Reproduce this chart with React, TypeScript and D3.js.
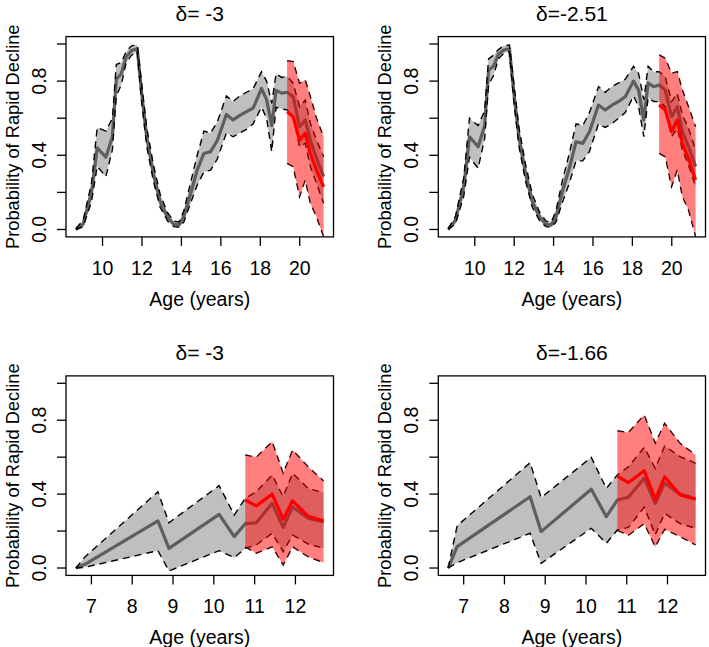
import React from "react";
import * as d3 from "d3";

// ---------- data ----------
const titles = ["δ= -3", "δ=-2.51", "δ= -3", "δ=-1.66"];
const xTicksTop = [10, 12, 14, 16, 18, 20];
const xTicksBottom = [7, 8, 9, 10, 11, 12];
const yTicks = [0, 0.2, 0.4, 0.6, 0.8, 1.0];
const yTickLabels = ["0.0", "", "0.4", "", "0.8", ""];

const agesTop = [8.65, 9.02, 9.44, 9.73, 10.17, 10.5, 10.7, 10.95, 11.2, 11.47, 11.76, 11.98, 12.24, 12.58, 12.92, 13.3, 13.62, 13.88, 14.12, 14.46, 14.8, 15.14, 15.48, 15.82, 16.28, 16.62, 16.96, 17.3, 17.64, 18.06, 18.32, 18.58, 18.8, 19.08, 19.36, 19.67, 19.99, 20.28, 20.54, 20.85, 21.21];
const redAgesTop = [19.36, 19.67, 19.99, 20.28, 20.54, 20.85, 21.21];

const p1Mean = [0, 0.03, 0.2, 0.44, 0.39, 0.5, 0.81, 0.84, 0.93, 0.965, 0.975, 0.74, 0.5, 0.3, 0.15, 0.065, 0.028, 0.025, 0.07, 0.19, 0.32, 0.41, 0.42, 0.48, 0.62, 0.59, 0.615, 0.635, 0.655, 0.76, 0.7, 0.56, 0.75, 0.735, 0.74, 0.716, 0.554, 0.59, 0.48, 0.384, 0.285];
const p1Lo = [0, 0.015, 0.15, 0.34, 0.285, 0.43, 0.72, 0.78, 0.9, 0.94, 0.96, 0.69, 0.45, 0.26, 0.12, 0.045, 0.015, 0.012, 0.04, 0.14, 0.24, 0.31, 0.32, 0.38, 0.52, 0.5, 0.52, 0.54, 0.57, 0.66, 0.6, 0.42, 0.66, 0.65, 0.645, 0.608, 0.446, 0.464, 0.339, 0.249, 0.141];
const p1Hi = [0.005, 0.05, 0.25, 0.55, 0.53, 0.6, 0.89, 0.9, 0.96, 0.99, 0.995, 0.79, 0.55, 0.35, 0.19, 0.09, 0.045, 0.04, 0.1, 0.25, 0.4, 0.53, 0.52, 0.58, 0.72, 0.69, 0.72, 0.74, 0.76, 0.85, 0.8, 0.68, 0.84, 0.82, 0.825, 0.788, 0.662, 0.698, 0.573, 0.482, 0.392];
const p1RedMean = [0.635, 0.608, 0.482, 0.518, 0.41, 0.32, 0.23];
const p1RedLo = [0.357, 0.339, 0.177, 0.267, 0.141, 0.069, -0.039];
const p1RedHi = [0.91, 0.905, 0.788, 0.806, 0.716, 0.6, 0.5];

const p2Mean = [0, 0.05, 0.23, 0.5, 0.446, 0.56, 0.86, 0.88, 0.945, 0.968, 0.975, 0.74, 0.5, 0.3, 0.15, 0.065, 0.028, 0.025, 0.068, 0.21, 0.33, 0.473, 0.464, 0.527, 0.671, 0.644, 0.67, 0.69, 0.716, 0.8, 0.75, 0.59, 0.79, 0.77, 0.779, 0.752, 0.608, 0.662, 0.527, 0.446, 0.339];
const p2Lo = [0, 0.03, 0.18, 0.39, 0.33, 0.49, 0.78, 0.83, 0.92, 0.95, 0.96, 0.69, 0.45, 0.26, 0.12, 0.045, 0.015, 0.012, 0.04, 0.15, 0.25, 0.37, 0.37, 0.42, 0.57, 0.55, 0.57, 0.6, 0.63, 0.72, 0.66, 0.5, 0.71, 0.69, 0.689, 0.662, 0.5, 0.545, 0.429, 0.348, 0.231];
const p2Hi = [0.005, 0.07, 0.28, 0.6, 0.56, 0.64, 0.92, 0.94, 0.97, 0.99, 0.995, 0.79, 0.55, 0.35, 0.19, 0.09, 0.045, 0.04, 0.1, 0.27, 0.41, 0.57, 0.56, 0.63, 0.77, 0.74, 0.77, 0.79, 0.81, 0.88, 0.84, 0.7, 0.88, 0.85, 0.851, 0.824, 0.689, 0.734, 0.617, 0.545, 0.429];
const p2RedMean = [0.671, 0.644, 0.527, 0.59, 0.465, 0.384, 0.267];
const p2RedLo = [0.41, 0.392, 0.231, 0.321, 0.177, 0.105, -0.039];
const p2RedHi = [0.941, 0.923, 0.842, 0.851, 0.752, 0.662, 0.554];

const agesBottom = [6.62, 6.84, 8.63, 8.9, 10.13, 10.5, 10.77, 11.04, 11.43, 11.7, 11.93, 12.31, 12.69];
const redAgesBottom = [10.77, 11.04, 11.43, 11.7, 11.93, 12.31, 12.69];

const p3Mean = [0, 0.02, 0.255, 0.106, 0.29, 0.17, 0.24, 0.245, 0.35, 0.22, 0.33, 0.27, 0.25];
const p3Lo = [0, 0.004, 0.094, -0.016, 0.094, 0.056, 0.106, 0.125, 0.188, 0.088, 0.179, 0.13, 0.107];
const p3Hi = [0, 0.06, 0.413, 0.245, 0.446, 0.287, 0.377, 0.413, 0.503, 0.386, 0.513, 0.431, 0.408];
const p3RedMean = [0.368, 0.336, 0.4, 0.264, 0.364, 0.28, 0.256];
const p3RedLo = [0.115, 0.08, 0.115, 0.016, 0.115, 0.061, 0.029];
const p3RedHi = [0.612, 0.6, 0.684, 0.513, 0.639, 0.548, 0.471];

const p4Mean = [0, 0.116, 0.386, 0.197, 0.426, 0.278, 0.368, 0.383, 0.486, 0.35, 0.46, 0.4, 0.375];
const p4Lo = [0, 0.029, 0.188, 0.025, 0.215, 0.134, 0.206, 0.22, 0.329, 0.18, 0.296, 0.24, 0.215];
const p4Hi = [0, 0.229, 0.57, 0.381, 0.599, 0.431, 0.504, 0.548, 0.653, 0.54, 0.66, 0.603, 0.567];
const p4RedMean = [0.498, 0.462, 0.527, 0.372, 0.494, 0.395, 0.372];
const p4RedLo = [0.204, 0.177, 0.24, 0.115, 0.21, 0.17, 0.125];
const p4RedHi = [0.743, 0.733, 0.828, 0.675, 0.783, 0.675, 0.612];

// ---------- layout ----------
const FONT = "'Liberation Sans', Arial, Helvetica, sans-serif";
const colX = [[66, 333.5], [438.3, 705.5]];
const rowY = [[36.6, 236.9], [375.9, 575.4]];

type Pt = { x: number; m: number; lo: number; hi: number };

function zip(xs: number[], m: number[], lo: number[], hi: number[]): Pt[] {
  return xs.map((x, i) => ({ x, m: m[i], lo: lo[i], hi: hi[i] }));
}

function Panel(props: {
  id: string; col: number; row: number; title: string; xTicks: number[];
  gray: Pt[]; red: Pt[];
}) {
  const { id, col, row, title, xTicks, gray, red } = props;
  const [x0, x1] = colX[col];
  const [y0, y1] = rowY[row];
  const ext = d3.extent(gray.map((d) => d.x)) as [number, number];
  const pad = (ext[1] - ext[0]) * 0.04;
  const xs = d3.scaleLinear().domain([ext[0] - pad, ext[1] + pad]).range([x0, x1]);
  const ys = d3.scaleLinear().domain([-0.04, 1.04]).range([y1, y0]);
  const area = d3.area<Pt>().x((d) => xs(d.x)).y0((d) => ys(d.lo)).y1((d) => ys(d.hi));
  const lm = d3.line<Pt>().x((d) => xs(d.x)).y((d) => ys(d.m));
  const llo = d3.line<Pt>().x((d) => xs(d.x)).y((d) => ys(d.lo));
  const lhi = d3.line<Pt>().x((d) => xs(d.x)).y((d) => ys(d.hi));
  const dash = "7,5";
  const cx = (x0 + x1) / 2;
  const fs = 19.5;
  return (
    <g>
      <defs>
        <clipPath id={id}>
          <rect x={x0} y={y0} width={x1 - x0} height={y1 - y0} />
        </clipPath>
      </defs>
      <g clipPath={`url(#${id})`}>
        <path d={area(gray) || ""} fill="#bfbfbf" stroke="none" />
        <path d={lm(gray) || ""} fill="none" stroke="#5e5e5e" strokeWidth={3.2} strokeLinejoin="round" />
        <path d={llo(gray) || ""} fill="none" stroke="#000" strokeWidth={1.4} strokeDasharray={dash} />
        <path d={lhi(gray) || ""} fill="none" stroke="#000" strokeWidth={1.4} strokeDasharray={dash} />
        <path d={llo(red) || ""} fill="none" stroke="#000" strokeWidth={1.4} strokeDasharray={dash} />
        <path d={lhi(red) || ""} fill="none" stroke="#000" strokeWidth={1.4} strokeDasharray={dash} />
        <path d={area(red) || ""} fill="rgba(255,0,0,0.5)" stroke="none" />
        <path d={lm(red) || ""} fill="none" stroke="#ff0000" strokeWidth={3.2} strokeLinejoin="round" />
      </g>
      <rect x={x0} y={y0} width={x1 - x0} height={y1 - y0} fill="none" stroke="#000" strokeWidth={1.3} />
      {xTicks.map((t) => (
        <g key={"x" + t}>
          <line x1={xs(t)} x2={xs(t)} y1={y1} y2={y1 + 9} stroke="#000" strokeWidth={1.3} />
          <text x={xs(t)} y={y1 + 31} textAnchor="middle" dominantBaseline="central" fontSize={fs} fontFamily={FONT}>{t}</text>
        </g>
      ))}
      {yTicks.map((t, i) => (
        <g key={"y" + t}>
          <line x1={x0 - 9} x2={x0} y1={ys(t)} y2={ys(t)} stroke="#000" strokeWidth={1.3} />
          {yTickLabels[i] && (
            <text transform={`translate(${x0 - 27},${ys(t)}) rotate(-90)`} textAnchor="middle" dominantBaseline="central" fontSize={fs} fontFamily={FONT}>{yTickLabels[i]}</text>
          )}
        </g>
      ))}
      <text x={cx} y={y1 + 62} textAnchor="middle" dominantBaseline="central" fontSize={fs} fontFamily={FONT}>Age (years)</text>
      <text transform={`translate(${x0 - 54},${(y0 + y1) / 2}) rotate(-90)`} textAnchor="middle" dominantBaseline="central" fontSize={18.3} fontFamily={FONT}>Probability of Rapid Decline</text>
      <text x={cx} y={y0 - 23} textAnchor="middle" dominantBaseline="central" fontSize={21} fontFamily={FONT}>{title}</text>
    </g>
  );
}

export default function App() {
  return (
    <svg width={709} height={647} style={{ position: "absolute", left: 0, top: 0, background: "#fff" }}>
      <rect x={0} y={0} width={709} height={647} fill="#fff" />
      <Panel id="c1" col={0} row={0} title={titles[0]} xTicks={xTicksTop}
        gray={zip(agesTop, p1Mean, p1Lo, p1Hi)} red={zip(redAgesTop, p1RedMean, p1RedLo, p1RedHi)} />
      <Panel id="c2" col={1} row={0} title={titles[1]} xTicks={xTicksTop}
        gray={zip(agesTop, p2Mean, p2Lo, p2Hi)} red={zip(redAgesTop, p2RedMean, p2RedLo, p2RedHi)} />
      <Panel id="c3" col={0} row={1} title={titles[2]} xTicks={xTicksBottom}
        gray={zip(agesBottom, p3Mean, p3Lo, p3Hi)} red={zip(redAgesBottom, p3RedMean, p3RedLo, p3RedHi)} />
      <Panel id="c4" col={1} row={1} title={titles[3]} xTicks={xTicksBottom}
        gray={zip(agesBottom, p4Mean, p4Lo, p4Hi)} red={zip(redAgesBottom, p4RedMean, p4RedLo, p4RedHi)} />
    </svg>
  );
}
